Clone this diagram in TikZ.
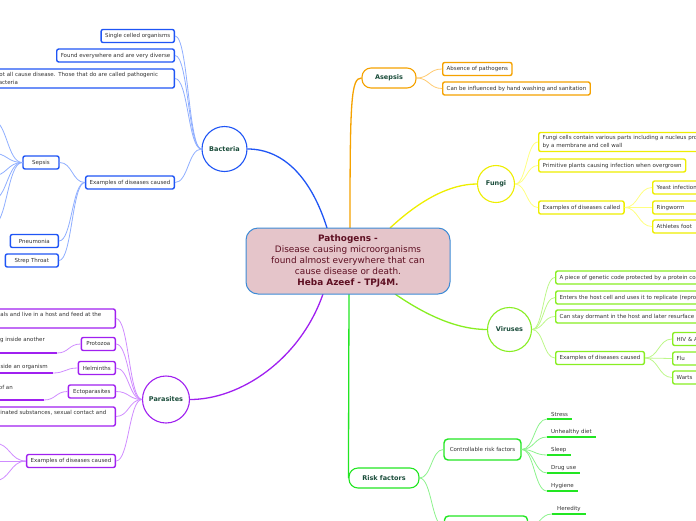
\documentclass[tikz,border=0pt]{standalone}
\usepackage{fontspec}
\setmainfont{DejaVu Sans}
\usetikzlibrary{calc}
\definecolor{cblue}{HTML}{1F55F5}
\definecolor{lblue}{HTML}{8FAEFF}
\definecolor{cpur}{HTML}{A020F0}
\definecolor{lpur}{HTML}{CF8CFF}
\definecolor{cyel}{HTML}{EEEE00}
\definecolor{lyel}{HTML}{FFFF80}
\definecolor{clime}{HTML}{88EE22}
\definecolor{llime}{HTML}{BDF78A}
\definecolor{corg}{HTML}{F5A200}
\definecolor{lorg}{HTML}{FFCA70}
\definecolor{cgrn}{HTML}{22E622}
\definecolor{lgrn}{HTML}{8CF28C}
\definecolor{cfill}{HTML}{E5C5CA}
\definecolor{cedge}{HTML}{3D8BD6}
\definecolor{ctext}{HTML}{5E0F22}
\definecolor{lab}{HTML}{1B4D3B}
\definecolor{txt}{HTML}{333333}
\begin{document}
\begin{tikzpicture}[x=1pt,y=-1pt,
 mm/.style={to path={let \p1=(\tikztostart),\p2=(\tikztotarget) in .. controls ({(\x1+\x2)/2},\y1) and ({(\x1+\x2)/2},\y2) .. (\tikztotarget)}},
 box/.style={draw=#1, rounded corners=2pt, fill=white, line width=1.4pt, inner xsep=4pt, inner ysep=0pt, minimum height=13pt, font=\fontsize{5.5}{7.5}\selectfont, text=txt},
 circ/.style={circle, draw=#1, fill=white, line width=1.1pt, inner sep=0pt, font=\bfseries\fontsize{6.5}{8}\selectfont, text=lab},
 rbox/.style={draw=#1, fill=white, rounded corners=9pt, line width=1.1pt, inner sep=0pt, font=\bfseries\fontsize{6.5}{8}\selectfont, text=lab},
 ul/.style={inner xsep=4pt, inner ysep=2pt, font=\fontsize{5.5}{7.5}\selectfont, text=txt},
 ptx/.style={inner sep=0pt, font=\fontsize{5.5}{7.5}\selectfont, text=txt},
 lb/.style={draw=lblue, line width=0.8pt},
 lp/.style={draw=lpur, line width=0.8pt},
 ly/.style={draw=lyel, line width=0.8pt},
 ll/.style={draw=llime, line width=0.8pt},
 lo/.style={draw=lorg, line width=0.8pt},
 lg/.style={draw=lgrn, line width=0.8pt},
 pul/.style={draw=cpur, line width=1.6pt},
 gul/.style={draw=cgrn, line width=1.6pt},
 mainline/.style={draw=#1, line width=1.3pt}
]
\useasboundingbox (0,0) rectangle (696,520);

% ---------- main connectors ----------
\coordinate (cB) at (327,228);
\coordinate (cA) at (350,228);
\coordinate (cF) at (390,228);
\coordinate (cV) at (395,294);
\coordinate (cP) at (323,294);
\coordinate (cR) at (349,294);

\node[circ=cblue, minimum size=45pt] (bac) at (224.5,149) {Bacteria};
\node[rbox=corg, minimum width=54pt, minimum height=20pt] (ase) at (389,78) {Asepsis};
\node[circ=cyel, minimum size=37pt] (fun) at (496,184) {Fungi};
\node[circ=clime, minimum size=44pt] (vir) at (509.5,329.5) {Viruses};
\node[circ=cpur, minimum size=47pt] (par) at (166,399.5) {Parasites};
\node[rbox=cgrn, minimum width=70pt, minimum height=20pt] (rsk) at (384,478) {Risk factors};

\draw[mainline=cblue] (cB) .. controls (312,180) and (285,149) .. (bac.east);
\draw[mainline=corg] (cA) .. controls (350,100) and (351,78) .. (ase.west);
\draw[mainline=cyel] (cF) .. controls (420,200) and (450,184) .. (fun.west);
\draw[mainline=clime] (cV) .. controls (430,318) and (460,329.5) .. (vir.west);
\draw[mainline=cpur] (cP) .. controls (300,360) and (240,399.5) .. (par.east);
\draw[mainline=cgrn] (cR) -- (rsk.west);

\node[draw=cedge, fill=cfill, rounded corners=12pt, line width=1pt, minimum width=204pt, minimum height=66pt, align=center, text=ctext, font=\fontsize{8.9}{11}\selectfont] (ctr) at (348,261) {\textbf{Pathogens -}\\Disease causing microorganisms\\found almost everywhere that can\\cause disease or death.\\\textbf{Heba Azeef - TPJ4M.}};

% ---------- Bacteria ----------
\node[box=cblue, anchor=east] (b1) at (175,36) {Single celled organisms};
\node[box=cblue, anchor=east] (b2) at (175,55.5) {Found everywhere and are very diverse};
\node[box=cblue, anchor=east, text width=175pt, align=left, minimum height=19pt] (b3) at (175,78.5) {Not all cause disease. Those that do are called pathogenic\\bacteria};
\node[box=cblue, anchor=east] (b4) at (175,182.5) {Examples of diseases caused};
\node[box=cblue, minimum width=36pt] (sep) at (41,162.5) {Sepsis};
\node[box=cblue, anchor=east, minimum width=48pt] (pne) at (59,241) {Pneumonia};
\node[box=cblue, anchor=east, minimum width=53pt] (str) at (59,260.5) {Strep Throat};
\foreach \nm in {b1,b2,b3,b4} \draw[lb] (bac.west) to[mm] (\nm.east);
\foreach \nm in {sep,pne,str} \draw[lb] (b4.west) to[mm] (\nm.east);
\coordinate (s1) at (-8,120);
\coordinate (s2) at (-8,153);
\coordinate (s3) at (-8,176);
\coordinate (s4) at (-8,200);
\coordinate (s5) at (-8,226);
\foreach \nm in {s1,s2,s3,s4,s5} \draw[lb] (sep.west) to[mm] (\nm);

% ---------- Asepsis ----------
\node[box=corg, anchor=west] (a1) at (442,69) {Absence of pathogens};
\node[box=corg, anchor=west] (a2) at (442,88.5) {Can be influenced by hand washing and sanitation};
\foreach \nm in {a1,a2} \draw[lo] (ase.east) to[mm] (\nm.west);

% ---------- Fungi ----------
\node[box=cyel, anchor=west, align=left, minimum height=19pt] (f1) at (538,142) {Fungi cells contain various parts including a nucleus protected\\by a membrane and cell wall};
\node[box=cyel, anchor=west] (f2) at (538,165.5) {Primitive plants causing infection when overgrown};
\node[box=cyel, anchor=west] (f3) at (538,207.5) {Examples of diseases called};
\node[box=cyel, anchor=west, text width=52pt, align=left] (f4) at (652,187.5) {Yeast infection};
\node[box=cyel, anchor=west, text width=52pt, align=left] (f5) at (652,207.5) {Ringworm};
\node[box=cyel, anchor=west, text width=52pt, align=left] (f6) at (652,226.5) {Athletes foot};
\foreach \nm in {f1,f2,f3} \draw[ly] (fun.east) to[mm] (\nm.west);
\foreach \nm in {f4,f5,f6} \draw[ly] (f3.east) to[mm] (\nm.west);

% ---------- Viruses ----------
\node[box=clime, anchor=west] (v1) at (555,277.5) {A piece of genetic code protected by a protein coat};
\node[box=clime, anchor=west] (v2) at (555,297.5) {Enters the host cell and uses it to replicate (reproduce)};
\node[box=clime, anchor=west] (v3) at (555,316.5) {Can stay dormant in the host and later resurface};
\node[box=clime, anchor=west] (v4) at (555,358) {Examples of diseases caused};
\node[box=clime, anchor=west, text width=40pt, align=left] (v5) at (672,339) {HIV \& AIDS};
\node[box=clime, anchor=west, text width=40pt, align=left] (v6) at (672,358.5) {Flu};
\node[box=clime, anchor=west, text width=40pt, align=left] (v7) at (672,377.5) {Warts};
\foreach \nm in {v1,v2,v3,v4} \draw[ll] (vir.east) to[mm] (\nm.west);
\foreach \nm in {v5,v6,v7} \draw[ll] (v4.east) to[mm] (\nm.west);

% ---------- Parasites ----------
\node[box=cpur, anchor=east, align=left, inner xsep=14pt, minimum height=19pt] (p1) at (116,318.5) {Organisms that use other animals and live in a host and feed at the\\expense of it};
\node[box=cpur, anchor=east, minimum width=34pt] (pro) at (116,344) {Protozoa};
\node[box=cpur, anchor=east, minimum width=37pt] (hel) at (116,368) {Helminths};
\node[box=cpur, anchor=east, minimum width=47pt] (ect) at (116,391.5) {Ectoparasites};
\node[box=cpur, anchor=east, align=left, inner xsep=9pt, minimum height=19pt] (p5) at (116,416.5) {Can be spread through contaminated substances, sexual contact and\\insects};
\node[box=cpur, anchor=east] (pex) at (116,461) {Examples of diseases caused};
\foreach \nm in {p1,pro,hel,ect,p5,pex} \draw[lp] (par.west) to[mm] (\nm.east);

\node[ptx, anchor=base east] (pt2) at (45,341.8) {Single celled organisms living inside another};
\coordinate (pu2) at (57,353);
\draw[pul] (pu2) -- ++(-70,0);
\draw[lp] (pu2) to[mm] (pro.west);
\node[ptx, anchor=base east] (pt3) at (48,368.8) {Parasitic worms that live inside an organism};
\coordinate (pu3) at (53,373);
\draw[pul] (pu3) -- ++(-70,0);
\draw[lp] (pu3) to[mm] (hel.west);
\node[ptx, anchor=base east] (pt4) at (13,389.8) {Parasites that live on the outside of an};
\coordinate (pu4) at (44,400);
\draw[pul] (pu4) -- ++(-70,0);
\draw[lp] (pu4) to[mm] (ect.west);

\coordinate (e1) at (-6,443);
\coordinate (e2) at (-6,461);
\coordinate (e3) at (-6,481);
\foreach \nm in {e1,e2,e3} \draw[lp] (pex.west) to[mm] (\nm);

% ---------- Risk factors ----------
\node[box=cgrn, minimum width=77pt, minimum height=21pt, rounded corners=4pt] (crf) at (482.5,449.5) {Controllable risk factors};
\node[box=cgrn, minimum width=83pt, minimum height=21pt, rounded corners=4pt] (urf) at (486,526.5) {Uncontrollable risk factors};
\draw[lg] (rsk.east) to[mm] (crf.west);
\draw[lg] (rsk.east) to[mm] (urf.west);
\node[ul, anchor=south west] (r1) at (547,419) {Stress};
\node[ul, anchor=south west] (r2) at (547,437) {Unhealthy diet};
\node[ul, anchor=south west] (r3) at (547,455) {Sleep};
\node[ul, anchor=south west] (r4) at (547,473) {Drug use};
\node[ul, anchor=south west] (r5) at (547,491) {Hygiene};
\node[ul, anchor=south west, inner xsep=5pt] (r6) at (552,514) {Heredity};
\foreach \nm in {r1,r2,r3,r4,r5} {
  \draw[gul] (\nm.south west) -- (\nm.south east);
  \draw[lg] (crf.east) to[mm] (\nm.south west);
}
\draw[gul] (r6.south west) -- (r6.south east);
\draw[lg] (urf.east) to[mm] (r6.south west);
\end{tikzpicture}
\end{document}
